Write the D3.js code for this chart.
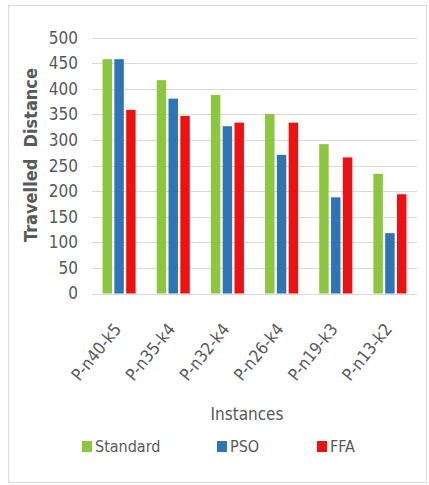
<!DOCTYPE html>
<html>
<head>
<meta charset="utf-8">
<script src="https://cdn.jsdelivr.net/npm/d3@7/dist/d3.min.js"></script>
<style>
  html, body { margin: 0; padding: 0; background: #ffffff; }
  svg { display: block; }
  text { font-family: "DejaVu Sans", sans-serif; font-stretch: condensed; fill: #595959; }
</style>
</head>
<body>
<svg id="chart" width="429" height="485"></svg>
<script>
// Instances on the x axis
const instances = ["P-n40-k5", "P-n35-k4", "P-n32-k4", "P-n26-k4", "P-n19-k3", "P-n13-k2"];
// Series names
const seriesNames = ["Standard", "PSO", "FFA"];
// Travelled distance per instance, one array per series
const standardValues = [458, 417, 388, 351, 292, 234];
const psoValues = [458, 381, 327, 271, 188, 118];
const ffaValues = [359, 347, 334, 334, 266, 194];
// Y axis ticks
const yTicks = [0, 50, 100, 150, 200, 250, 300, 350, 400, 450, 500];

const seriesValues = [standardValues, psoValues, ffaValues];
const colors = ["#8dc63f", "#2e75b6", "#f01010"];

const svg = d3.select("#chart");

// Outer frame
svg.append("rect")
  .attr("x", 8.5).attr("y", 5.5)
  .attr("width", 418).attr("height", 477)
  .attr("fill", "#ffffff")
  .attr("stroke", "#d9d9d9").attr("stroke-width", 1);

const plot = { left: 92, right: 417, top: 37.7, bottom: 293.5 };

const y = d3.scaleLinear().domain([0, 500]).range([plot.bottom, plot.top]);
const x0 = d3.scaleBand().domain(instances).range([plot.left, plot.right])
  .paddingInner(0.39).paddingOuter(0.195);
const x1 = d3.scaleBand().domain(seriesNames).range([0, x0.bandwidth()]).paddingInner(0.2);

// Gridlines
svg.append("g")
  .selectAll("line")
  .data(yTicks)
  .join("line")
  .attr("x1", plot.left).attr("x2", plot.right)
  .attr("y1", d => Math.round(y(d)) + 0.5).attr("y2", d => Math.round(y(d)) + 0.5)
  .attr("stroke", "#d9d9d9").attr("stroke-width", 1);

// Y axis labels
const yAxis = d3.axisLeft(y).tickValues(yTicks).tickSize(0).tickPadding(0);
const gy = svg.append("g").attr("transform", "translate(78,0)").call(yAxis);
gy.select(".domain").remove();
gy.selectAll("text")
  .attr("font-size", 17)
  .attr("fill", "#595959")
  .style("font-family", "\"DejaVu Sans\", sans-serif");

// Bars
const groups = svg.append("g")
  .selectAll("g")
  .data(instances)
  .join("g")
  .attr("transform", d => `translate(${x0(d)},0)`);

groups.selectAll("rect")
  .data((d, i) => seriesNames.map((s, k) => ({ s, k, v: seriesValues[k][i] })))
  .join("rect")
  .attr("x", d => x1(d.s))
  .attr("width", x1.bandwidth())
  .attr("y", d => y(d.v))
  .attr("height", d => y(0) - y(d.v))
  .attr("fill", d => colors[d.k]);

// X axis labels, rotated
const xAxis = d3.axisBottom(x0).tickSize(0).tickPadding(0);
const gx = svg.append("g").attr("transform", `translate(0,${plot.bottom})`).call(xAxis);
gx.select(".domain").remove();
gx.selectAll("text")
  .attr("font-size", 17)
  .attr("fill", "#595959")
  .style("font-family", "\"DejaVu Sans\", sans-serif")
  .attr("text-anchor", "end")
  .attr("dy", null)
  .attr("y", 0)
  .attr("transform", "translate(3,36) rotate(-51)");

// Axis titles
svg.append("text")
  .attr("x", 247).attr("y", 420)
  .attr("text-anchor", "middle")
  .attr("font-size", 17)
  .text("Instances");

svg.append("text")
  .attr("transform", "translate(37,155) rotate(-90)")
  .attr("text-anchor", "middle")
  .attr("font-size", 18)
  .attr("font-weight", "bold")
  .attr("xml:space", "preserve")
  .style("white-space", "pre")
  .text("Travelled  Distance");

// Legend
const legendX = [82, 217, 317];
const legend = svg.append("g")
  .selectAll("g")
  .data(seriesNames)
  .join("g")
  .attr("transform", (d, i) => `translate(${legendX[i]},441)`);
legend.append("rect")
  .attr("width", 10).attr("height", 11)
  .attr("fill", (d, i) => colors[i]);
legend.append("text")
  .attr("x", 13).attr("y", 11)
  .attr("font-size", 16)
  .text(d => d);
</script>
</body>
</html>
